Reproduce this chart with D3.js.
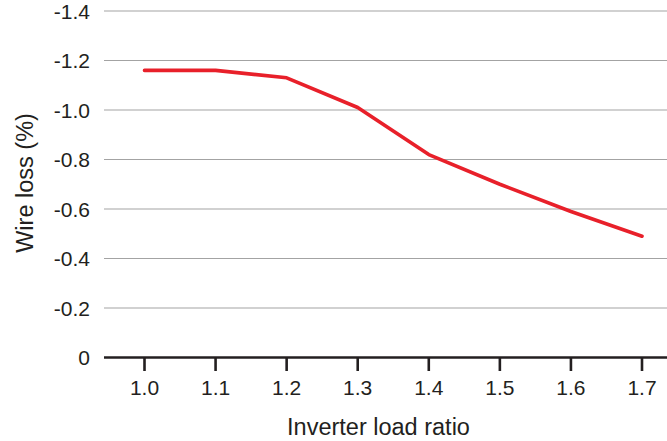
<!DOCTYPE html>
<html>
<head>
<meta charset="utf-8">
<script src="https://cdn.jsdelivr.net/npm/d3@7"></script>
<style>
html,body{margin:0;padding:0;background:#fff;}
svg{display:block;}
text{font-family:"Liberation Sans",Arial,Helvetica,sans-serif;fill:#231f20;}
</style>
</head>
<body>
<svg id="chart" width="667" height="441"></svg>
<script>
const categories = [1.0, 1.1, 1.2, 1.3, 1.4, 1.5, 1.6, 1.7];
const categoryLabels = ["1.0", "1.1", "1.2", "1.3", "1.4", "1.5", "1.6", "1.7"];
const wireLoss = [-1.16, -1.16, -1.13, -1.01, -0.82, -0.70, -0.59, -0.49];
const yTicks = [0, -0.2, -0.4, -0.6, -0.8, -1.0, -1.2, -1.4];
const yTickLabels = ["0", "-0.2", "-0.4", "-0.6", "-0.8", "-1.0", "-1.2", "-1.4"];
const xTitle = "Inverter load ratio";
const yTitle = "Wire loss (%)";

const svg = d3.select("#chart");
const plotLeft = 104, plotRight = 667;

const x = d3.scaleLinear().domain([1.0, 1.7]).range([144.5, 642]);
const y = d3.scaleLinear().domain([0, -1.4]).range([357.5, 11]);

// gridlines
svg.append("g").selectAll("line")
  .data(yTicks.filter(d => d !== 0))
  .join("line")
  .attr("x1", plotLeft).attr("x2", plotRight)
  .attr("y1", d => y(d)).attr("y2", d => y(d))
  .attr("stroke", "#a3a3a3").attr("stroke-width", 1.2);

// y tick labels
svg.append("g").selectAll("text")
  .data(yTicks)
  .join("text")
  .attr("x", 90)
  .attr("y", d => y(d) + 7.5)
  .attr("text-anchor", "end")
  .attr("font-size", 21)
  .text((d, i) => yTickLabels[i]);

// x axis
const xAxisG = svg.append("g");
xAxisG.append("line")
  .attr("x1", plotLeft).attr("x2", plotRight)
  .attr("y1", y(0)).attr("y2", y(0))
  .attr("stroke", "#231f20").attr("stroke-width", 2.6);
xAxisG.selectAll("line.tick")
  .data(categories)
  .join("line").attr("class", "tick")
  .attr("x1", d => x(d)).attr("x2", d => x(d))
  .attr("y1", y(0)).attr("y2", y(0) + 13.5)
  .attr("stroke", "#231f20").attr("stroke-width", 2.6);
xAxisG.selectAll("text")
  .data(categories)
  .join("text")
  .attr("x", d => x(d))
  .attr("y", 395)
  .attr("text-anchor", "middle")
  .attr("font-size", 21)
  .text((d, i) => categoryLabels[i]);

// line
const line = d3.line()
  .x((d, i) => x(categories[i]))
  .y(d => y(d));
svg.append("path")
  .datum(wireLoss)
  .attr("d", line)
  .attr("fill", "none")
  .attr("stroke", "#e8202a")
  .attr("stroke-width", 3.6)
  .attr("stroke-linejoin", "round")
  .attr("stroke-linecap", "round");

// titles
svg.append("text")
  .attr("x", (285 + 472) / 2)
  .attr("y", 435)
  .attr("text-anchor", "middle")
  .attr("font-size", 23.5)
  .text(xTitle);

svg.append("text")
  .attr("transform", "translate(33,183) rotate(-90)")
  .attr("text-anchor", "middle")
  .attr("font-size", 23.5)
  .text(yTitle);
</script>
</body>
</html>
